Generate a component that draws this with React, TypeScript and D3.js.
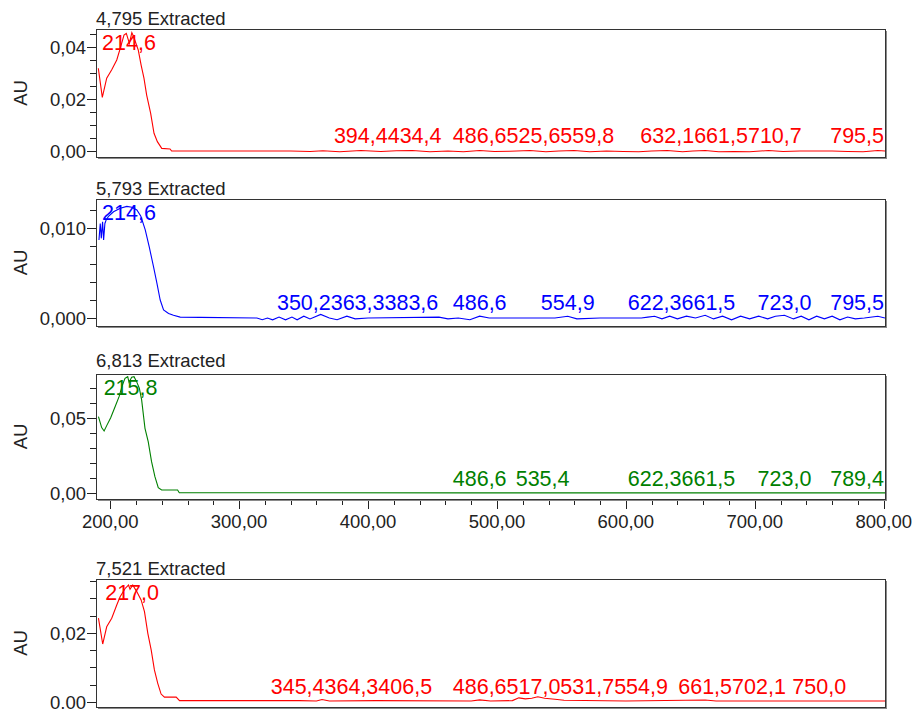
import * as d3 from "d3";

// PDA spectra, one panel per retention time
const TITLES = ["4,795 Extracted", "5,793 Extracted", "6,813 Extracted", "7,521 Extracted"];
const COLORS = ["#ff0000", "#0000ff", "#008000", "#ff0000"];

const X_DOMAIN = [189, 801];
const X_TICKS = [200, 300, 400, 500, 600, 700, 800];
const X_TICK_LABELS = ["200,00", "300,00", "400,00", "500,00", "600,00", "700,00", "800,00"];

const Y_DOMAINS = [
  [-0.0023, 0.0469],
  [-0.00089, 0.01322],
  [-0.004, 0.0793],
  [-0.00145, 0.03565],
];
const Y_MAJOR = [[0, 0.02, 0.04], [0, 0.01], [0, 0.05], [0, 0.02]];
const Y_MAJOR_LABELS = [["0,00", "0,02", "0,04"], ["0,000", "0,010"], ["0,00", "0,05"], ["0,00", "0,02"]];
const Y_MINOR = [
  [0.005, 0.01, 0.015, 0.025, 0.03, 0.035, 0.045],
  [0.002, 0.004, 0.006, 0.008, 0.012],
  [0.01, 0.02, 0.03, 0.04, 0.06, 0.07],
  [0.005, 0.01, 0.015, 0.025, 0.03, 0.035],
];

// [wavelength nm, AU]
const SPEC_4795: [number, number][] = [
  [190.8, 0.0318], [193.9, 0.0206], [197.3, 0.028], [201.2, 0.0312], [205.1, 0.035], [208.2, 0.0401],
  [210.7, 0.0446], [212.5, 0.0452], [214.9, 0.0414], [216.8, 0.0455], [218, 0.0442], [221.8, 0.0388],
  [224, 0.033], [226.2, 0.028], [228.3, 0.0215], [231.4, 0.0145], [234, 0.0068], [236.6, 0.0036],
  [240, 0.001], [246.4, 0.0008], [247.7, 0], [260, 0], [340, 0], [355, -0.0002], [365, 0.0001],
  [378, -0.0003], [394.4, 0.0002], [410, -0.0002], [422, 0.0001], [434.4, 0.0002], [448, -0.0003],
  [462, 0], [474, -0.0003], [486.6, 0.0002], [498, -0.0002], [510, -0.0001], [525.6, 0.0002],
  [538, -0.0003], [548, 0], [559.8, 0.0002], [572, -0.0003], [585, 0], [598, -0.0002], [610, -0.0003],
  [620, 0], [632.1, 0.0002], [644, -0.0003], [652, 0], [661.5, 0.0002], [672, -0.0003], [684, -0.0002],
  [696, -0.0003], [710.7, 0.0002], [722, -0.0002], [735, 0], [760, 0], [772, -0.0002], [784, -0.0003],
  [795.5, 0.0002], [801, 0],
];
const SPEC_5793: [number, number][] = [
  [191.3, 0.00867], [192.3, 0.0105], [193.1, 0.00885], [194.1, 0.0107], [194.9, 0.00867], [195.9, 0.0105],
  [196.9, 0.0109], [198.7, 0.0113], [202.6, 0.0118], [207.8, 0.0122], [212.9, 0.0124], [216.8, 0.0123],
  [220.7, 0.012], [223.8, 0.0113], [227.2, 0.0098], [230.3, 0.0079], [233.6, 0.0057], [236.2, 0.0039],
  [238.8, 0.002], [241.4, 0.0009], [245.3, 0.0005], [249.1, 0.0003], [254.3, 0.0001], [269.8, 0.00007],
  [313.8, 0], [318, -0.0002], [322, 0], [326, -0.0002], [331, 0.0001], [336, -0.0002], [341, 0.0001],
  [345, -0.0002], [350.2, 0.0002], [355, -0.0001], [363.3, 0.0004], [370, 0], [376, -0.0002],
  [383.6, 0.0002], [390, -0.0001], [400, 0], [455, 0.0001], [462, -0.0001], [470, 0], [479, -0.0002],
  [486.6, 0.0002], [494, 0], [545, 0], [554.9, 0.0002], [562, -0.0001], [580, 0], [612, 0],
  [617, 0.0001], [622.3, 0.0002], [628, -0.0001], [634, 0.0002], [640, -0.0001], [647, 0.0002],
  [654, 0], [661.5, 0.0003], [668, -0.0001], [675, 0.0002], [682, -0.0002], [689, 0.0002],
  [696, -0.0001], [703, 0.0002], [710, -0.0001], [716, 0.0002], [723, 0.0003], [730, -0.0001],
  [736, 0.0002], [742, -0.0002], [748, 0.0002], [754, -0.0001], [760, 0.0002], [766, -0.0002],
  [772, 0.0001], [778, -0.0001], [785, 0], [795.5, 0.0002], [801, 0],
];
const SPEC_6813: [number, number][] = [
  [190.9, 0.0509], [193.4, 0.0436], [195.3, 0.0413], [197.3, 0.0449], [200.4, 0.0502], [203.8, 0.0575],
  [206.9, 0.0642], [209.5, 0.072], [211.5, 0.0764], [213.6, 0.0775], [214.6, 0.0738], [216.7, 0.0771],
  [218.5, 0.0775], [220.5, 0.0742], [222.6, 0.0698], [224.4, 0.062], [227, 0.0431], [229.5, 0.0342],
  [232.1, 0.0209], [234.7, 0.0109], [237.3, 0.0036], [239.9, 0.002], [252.3, 0.002], [253.6, 0.0002],
  [347, 0.0002], [480, 0.0001], [801, 0.0001],
];
const SPEC_7521: [number, number][] = [
  [190.9, 0.0243], [194.2, 0.0168], [197.3, 0.0218], [201.2, 0.0243], [205.1, 0.0281], [207.7, 0.0305],
  [211.6, 0.0329], [214.2, 0.0339], [215.4, 0.0327], [217.5, 0.0339], [220.6, 0.032], [224, 0.0296],
  [226.6, 0.0262], [229.2, 0.0199], [231.8, 0.0151], [234.3, 0.0093], [236.9, 0.0054], [239.5, 0.0023],
  [242.1, 0.0014], [251.2, 0.0014], [253.8, 0.0004], [346.9, 0.0004], [360, 0.0003], [364.3, 0.0007],
  [370, 0.0003], [406.5, 0.0004], [480, 0.0003], [486.6, 0.0006], [495, 0.0003], [512, 0.0004],
  [517, 0.0012], [522, 0.0009], [527, 0.0011], [531.7, 0.0015], [537, 0.0011], [545, 0.0008],
  [552, 0.0005], [600, 0.0003], [661.5, 0.0006], [670, 0.0003], [801, 0.0003],
];
const SPECTRA = [SPEC_4795, SPEC_5793, SPEC_6813, SPEC_7521];

// labelled peaks: [wavelength nm, AU at apex]
const PEAKS_4795: [number, number][] = [
  [214.6, 0.0455], [394.4, 0.0003], [434.4, 0.0003], [486.6, 0.0003], [525.6, 0.0003], [559.8, 0.0003],
  [632.1, 0.0003], [661.5, 0.0003], [710.7, 0.0003], [795.5, 0.0003],
];
const PEAKS_5793: [number, number][] = [
  [214.6, 0.0124], [350.2, 0.0001], [363.3, 0.0001], [383.6, 0.0001], [486.6, 0.0001], [554.9, 0.0001],
  [622.3, 0.0001], [661.5, 0.0001], [723.0, 0.0001], [795.5, 0.0001],
];
const PEAKS_6813: [number, number][] = [
  [215.8, 0.0775], [486.6, 0.0001], [535.4, 0.0001], [622.3, 0.0001], [661.5, 0.0001], [723.0, 0.0001],
  [789.4, 0.0001],
];
const PEAKS_7521: [number, number][] = [
  [217.0, 0.0339], [345.4, 0.0004], [364.3, 0.0004], [406.5, 0.0004], [486.6, 0.0004], [517.0, 0.0004],
  [531.7, 0.0004], [554.9, 0.0004], [661.5, 0.0004], [702.1, 0.0004], [750.0, 0.0004],
];
const PEAKS = [PEAKS_4795, PEAKS_5793, PEAKS_6813, PEAKS_7521];

// layout
const LEFT = 96, RIGHT = 885;
const BOXES = [
  { top: 29, bottom: 157, titleGap: 4 },
  { top: 199, bottom: 326, titleGap: 4 },
  { top: 374, bottom: 499, titleGap: 7 },
  { top: 579, bottom: 707, titleGap: 4 },
];
const FONT = "'Liberation Sans', Arial, sans-serif";
const AXIS_FS = 18.5, PEAK_FS = 21.5;

const fmt = (v: number) => v.toFixed(1).replace(".", ",");
const textW = (s: string, fs: number) =>
  [...s].reduce((a, c) => a + (c === "," || c === "." ? 0.278 : 0.556), 0) * fs;

function placeLabels(peaks: [number, number][], x: d3.ScaleLinear<number, number>, y: d3.ScaleLinear<number, number>, top: number) {
  const items = peaks
    .map(([wl, au]) => {
      const text = fmt(wl);
      const w = textW(text, PEAK_FS);
      return { text, w, cx: x(wl), yb: Math.max(y(au) - 7, top + 20.5), left: 0 };
    })
    .sort((a, b) => a.cx - b.cx);
  const rowRight = new Map<number, number>();
  items.forEach((it) => {
    const row = Math.round(it.yb / 10);
    let l = it.cx - it.w / 2;
    const pr = rowRight.get(row);
    if (pr !== undefined && l < pr) l = pr;
    l = Math.min(l, RIGHT - 1 - it.w);
    l = Math.max(l, LEFT + 2);
    it.left = l;
    rowRight.set(row, l + it.w);
  });
  return items;
}

function Panel({ i }: { i: number }) {
  const box = BOXES[i];
  const x = d3.scaleLinear().domain(X_DOMAIN).range([LEFT, RIGHT]);
  const y = d3.scaleLinear().domain(Y_DOMAINS[i]).range([box.bottom, box.top]);
  const line = d3.line<[number, number]>().x((d) => x(d[0])).y((d) => y(d[1]));
  const color = COLORS[i];
  const labels = placeLabels(PEAKS[i], x, y, box.top);
  const clipId = `clip${i}`;
  const showX = i === 2;
  const minorX = d3.range(200, 801, 20).filter((v) => v % 100 !== 0);
  return (
    <g>
      <defs>
        <clipPath id={clipId}>
          <rect x={LEFT + 1} y={box.top + 1} width={RIGHT - LEFT - 1} height={box.bottom - box.top - 1} />
        </clipPath>
      </defs>
      <text x={LEFT} y={box.top - box.titleGap} fontSize={AXIS_FS} fill="#222">{TITLES[i]}</text>
      <text transform={`translate(27,${(box.top + box.bottom) / 2}) rotate(-90)`} textAnchor="middle" fontSize={AXIS_FS} fill="#222">AU</text>
      {Y_MAJOR[i].map((t, k) => (
        <g key={`ym${k}`}>
          <line x1={LEFT - 9} x2={LEFT} y1={Math.round(y(t)) + 0.5} y2={Math.round(y(t)) + 0.5} stroke="#222" />
          <text x={LEFT - 10} y={y(t)} dy="0.36em" textAnchor="end" fontSize={AXIS_FS} fill="#222">{Y_MAJOR_LABELS[i][k]}</text>
        </g>
      ))}
      {Y_MINOR[i].map((t, k) => (
        <line key={`yn${k}`} x1={LEFT - 6} x2={LEFT} y1={Math.round(y(t)) + 0.5} y2={Math.round(y(t)) + 0.5} stroke="#222" />
      ))}
      {showX && (
        <g>
          {X_TICKS.map((t, k) => (
            <g key={`xm${k}`}>
              <line x1={Math.round(x(t)) + 0.5} x2={Math.round(x(t)) + 0.5} y1={box.bottom} y2={box.bottom + 10} stroke="#222" />
              <text x={x(t)} y={box.bottom + 29} textAnchor="middle" fontSize={AXIS_FS} fill="#222">{X_TICK_LABELS[k]}</text>
            </g>
          ))}
          {minorX.map((t) => (
            <line key={`xn${t}`} x1={Math.round(x(t)) + 0.5} x2={Math.round(x(t)) + 0.5} y1={box.bottom} y2={box.bottom + 6} stroke="#222" />
          ))}
        </g>
      )}
      <g clipPath={`url(#${clipId})`}>
        <path d={line(SPECTRA[i]) ?? ""} fill="none" stroke={color} strokeWidth={1.1} />
      </g>
      {labels.map((l, k) => (
        <text key={`pk${k}`} x={l.left} y={l.yb} fontSize={PEAK_FS} fill={color}>{l.text}</text>
      ))}
      <rect x={LEFT + 0.5} y={box.top + 0.5} width={RIGHT - LEFT} height={box.bottom - box.top} fill="none" stroke="#333" />
      <line x1={RIGHT + 1.5} x2={RIGHT + 1.5} y1={box.top + 2} y2={box.bottom + 2} stroke="#8a8a8a" />
      <line x1={LEFT + 2} x2={RIGHT + 2} y1={box.bottom + 1.5} y2={box.bottom + 1.5} stroke="#8a8a8a" />
    </g>
  );
}

export default function App() {
  return (
    <svg width={923} height={709} fontFamily={FONT} style={{ position: "absolute", left: 0, top: 0, background: "#fff" }}>
      <rect width={923} height={709} fill="#fff" />
      {TITLES.map((_t, i) => (
        <Panel key={i} i={i} />
      ))}
    </svg>
  );
}
